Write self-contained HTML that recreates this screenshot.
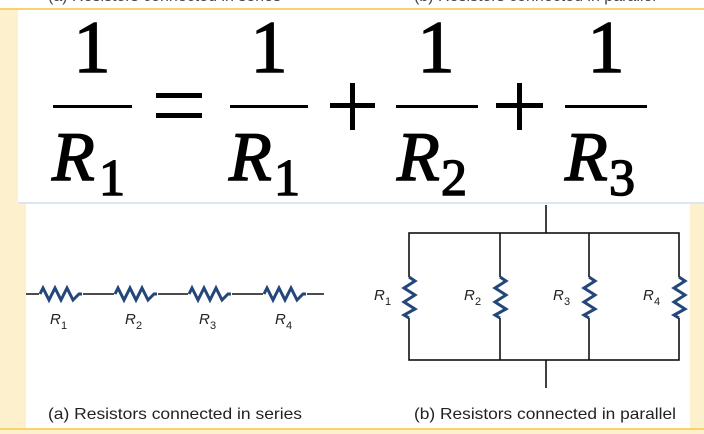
<!DOCTYPE html>
<html><head><meta charset="utf-8"><style>
html,body{margin:0;padding:0;width:704px;height:434px;overflow:hidden;background:#fdf0cc;}
svg{display:block}
</style></head><body>
<svg width="704" height="434" viewBox="0 0 704 434" xmlns="http://www.w3.org/2000/svg">
<rect x="0" y="0" width="704" height="434" fill="#fdf0cc"/>
<rect x="0" y="0" width="704" height="9" fill="#fff"/>
<text x="48" y="1" font-family="Liberation Sans, sans-serif" font-size="16" fill="#444">(a) Resistors connected in series</text>
<text x="414" y="1" font-family="Liberation Sans, sans-serif" font-size="16" fill="#444">(b) Resistors connected in parallel</text>
<rect x="0" y="8" width="704" height="2" fill="#f7d36a"/>
<rect x="26" y="200" width="664" height="228" fill="#fff"/>
<rect x="18" y="10" width="686" height="192" fill="#fff"/>
<rect x="18" y="202" width="686" height="2" fill="#dce6f2"/>
<rect x="0" y="428" width="704" height="2" fill="#f7d36a"/>
<g font-family="Liberation Serif, serif" fill="#000" stroke="#000" stroke-width="1.5">
<g font-size="74" text-anchor="middle">
<text x="92" y="72">1</text>
<text x="269" y="72">1</text>
<text x="436" y="72">1</text>
<text x="606" y="72">1</text>
</g>
<g font-style="italic" font-size="70">
<text x="52" y="180">R</text><text x="229" y="180">R</text><text x="397" y="180">R</text><text x="565" y="180">R</text>
</g>
<g font-size="52">
<text x="99" y="195">1</text><text x="274" y="195">1</text><text x="441" y="195">2</text><text x="609" y="195">3</text>
</g>
</g>
<g fill="#000">
<rect x="53" y="105" width="79" height="3"/>
<rect x="230" y="105" width="78" height="3"/>
<rect x="396" y="105" width="82" height="3"/>
<rect x="565" y="105" width="82" height="3"/>
<rect x="156" y="93" width="46" height="5"/>
<rect x="156" y="113" width="46" height="5"/>
<rect x="330" y="103" width="45" height="5"/>
<rect x="350" y="83" width="5" height="47"/>
<rect x="496" y="103" width="47" height="5"/>
<rect x="517" y="83" width="5" height="47"/>
</g>
<g stroke="#111" stroke-width="1.6" fill="none">
<line x1="26" y1="294" x2="324" y2="294"/>
<line x1="546" y1="205" x2="546" y2="233"/>
<rect x="409" y="233" width="270" height="127"/>
<line x1="500" y1="233" x2="500" y2="360"/>
<line x1="589" y1="233" x2="589" y2="360"/>
<line x1="546" y1="360" x2="546" y2="388"/>
</g>
<defs>
<path id="hz" d="M0,0 L3,-6 L9,6 L15,-6 L21,6 L27,-6 L33,6 L39,0 L42,0"/>
<path id="vz" d="M0,0 L6,4 L-5,11 L6,18 L-5,25 L6,32 L-5,38 L0,41"/>
</defs>
<g stroke="#24477a" stroke-width="3" fill="none" stroke-linejoin="miter">
<rect x="39" y="287" width="44" height="14" fill="#fff" stroke="none"/>
<rect x="114" y="287" width="44" height="14" fill="#fff" stroke="none"/>
<rect x="188" y="287" width="44" height="14" fill="#fff" stroke="none"/>
<rect x="263" y="287" width="44" height="14" fill="#fff" stroke="none"/>
<use href="#hz" x="40" y="294"/><use href="#hz" x="115" y="294"/><use href="#hz" x="189" y="294"/><use href="#hz" x="264" y="294"/>
<rect x="402" y="277" width="15" height="41" fill="#fff" stroke="none"/>
<rect x="493" y="277" width="15" height="41" fill="#fff" stroke="none"/>
<rect x="582" y="277" width="15" height="41" fill="#fff" stroke="none"/>
<rect x="672" y="277" width="15" height="41" fill="#fff" stroke="none"/>
<use href="#vz" x="409" y="277"/><use href="#vz" x="500" y="277"/><use href="#vz" x="589" y="277"/><use href="#vz" x="679" y="277"/>
</g>
<g font-family="Liberation Sans, sans-serif" fill="#222">
<g font-size="15" font-style="italic">
<text x="50" y="324">R</text><text x="125" y="324">R</text><text x="199" y="324">R</text><text x="275" y="324">R</text>
<text x="374" y="300">R</text><text x="464" y="300">R</text><text x="553" y="300">R</text><text x="643" y="300">R</text>
</g>
<g font-size="11">
<text x="61" y="329">1</text><text x="136" y="329">2</text><text x="210" y="329">3</text><text x="286" y="329">4</text>
<text x="385" y="305">1</text><text x="475" y="305">2</text><text x="564" y="305">3</text><text x="654" y="305">4</text>
</g>
<text x="48" y="419" font-size="16" textLength="254" lengthAdjust="spacingAndGlyphs">(a) Resistors connected in series</text>
<text x="414" y="419" font-size="16" textLength="262" lengthAdjust="spacingAndGlyphs">(b) Resistors connected in parallel</text>
</g>
</svg>
</body></html>
